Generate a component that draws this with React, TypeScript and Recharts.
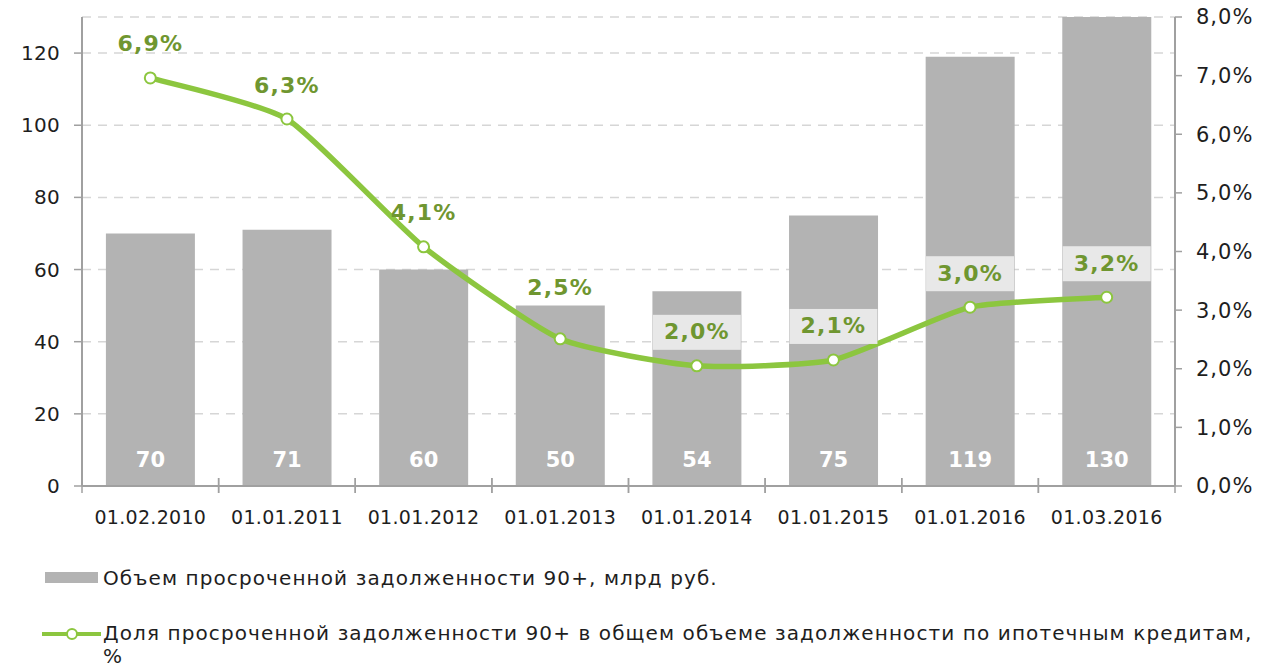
import React from 'react';
import * as R from 'recharts';
import { ComposedChart, Bar, Line, XAxis, YAxis, CartesianGrid, LabelList } from 'recharts';

const categories = ['01.02.2010', '01.01.2011', '01.01.2012', '01.01.2013', '01.01.2014', '01.01.2015', '01.01.2016', '01.03.2016'];
const volumes = [70, 71, 60, 50, 54, 75, 119, 130];
const shares = [6.96, 6.26, 4.08, 2.51, 2.05, 2.15, 3.05, 3.22];
const shareLabels = ['6,9%', '6,3%', '4,1%', '2,5%', '2,0%', '2,1%', '3,0%', '3,2%'];
const leftTicks = [0, 20, 40, 60, 80, 100, 120];
const rightTicks = [0, 1, 2, 3, 4, 5, 6, 7, 8];
const seriesNames = [
  'Объем просроченной задолженности 90+, млрд руб.',
  'Доля просроченной задолженности 90+ в общем объеме задолженности по ипотечным кредитам, %',
];

const LEFT_MAX = 130;
const RIGHT_MAX = 8;

const data = categories.map((c, i) => ({
  name: c,
  volume: volumes[i],
  share: shares[i],
  shareLabel: shareLabels[i],
}));

const FONT = 'Verdana, "DejaVu Sans", sans-serif';
const BAR_COLOR = '#b3b3b3';
const LINE_COLOR = '#8cc63f';
const LABEL_COLOR = '#6f9630';
const AXIS_COLOR = '#a0a0a0';
const TEXT_COLOR = '#1e1e1e';

const usePA: () => any = (R as any).usePlotArea || (() => null);

// Light cardinal-style smoothing (like a spreadsheet's "smoothed line")
function smoothCurve(tension: number) {
  return (context: any) => {
    let pts: number[][] = [];
    return {
      areaStart() {},
      areaEnd() {},
      lineStart() {
        pts = [];
      },
      point(x: number, y: number) {
        pts.push([+x, +y]);
      },
      lineEnd() {
        const n = pts.length;
        if (!n) return;
        context.moveTo(pts[0][0], pts[0][1]);
        const k = (1 - tension) / 6;
        for (let i = 0; i < n - 1; i++) {
          const p0 = pts[Math.max(i - 1, 0)];
          const p1 = pts[i];
          const p2 = pts[i + 1];
          const p3 = pts[Math.min(i + 2, n - 1)];
          context.bezierCurveTo(
            p1[0] + k * (p2[0] - p0[0]),
            p1[1] + k * (p2[1] - p0[1]),
            p2[0] - k * (p3[0] - p1[0]),
            p2[1] - k * (p3[1] - p1[1]),
            p2[0],
            p2[1]
          );
        }
      },
    };
  };
}

function PctLabel(props: any) {
  const { x, y, index, value } = props;
  const plot = usePA();
  let cy = y - 34;
  let boxed = false;
  if (plot && plot.height) {
    const gap = (volumes[index] / LEFT_MAX - shares[index] / RIGHT_MAX) * plot.height;
    if (gap > 0 && gap < 60) cy = y - gap - 18;
    else if (gap >= 60) boxed = true;
  }
  return (
    <g>
      {boxed && <rect x={x - 44} y={cy - 17} width={88} height={35} fill="#e8e8e8" />}
      <text x={x} y={cy} textAnchor="middle" dominantBaseline="central" fontFamily={FONT} fontWeight="bold" fontSize={22} letterSpacing={1.2} fill={LABEL_COLOR}>
        {value}
      </text>
    </g>
  );
}

function BarValueLabel(props: any) {
  const { x, y, width, height, value } = props;
  return (
    <text x={x + width / 2} y={y + height - 26} textAnchor="middle" dominantBaseline="central" fontFamily={FONT} fontWeight="bold" fontSize={21} fill="#fff">
      {value}
    </text>
  );
}

function XTick(props: any) {
  const { x, y, payload } = props;
  const half = payload && typeof payload.offset === 'number' ? payload.offset : 0;
  return (
    <g>
      {half > 0 && (
        <>
          <line x1={x - half} x2={x - half} y1={y - 8} y2={y + 7} stroke={AXIS_COLOR} strokeWidth={1.5} />
          <line x1={x + half} x2={x + half} y1={y - 8} y2={y + 7} stroke={AXIS_COLOR} strokeWidth={1.5} />
        </>
      )}
      <text x={x} y={y + 31} textAnchor="middle" dominantBaseline="central" fontFamily={FONT} fontSize={19} letterSpacing={0.3} fill={TEXT_COLOR}>
        {payload.value}
      </text>
    </g>
  );
}

const fmtPct = (v: number) => v.toFixed(1).replace('.', ',') + '%';

export default function App() {
  return (
    <div style={{ position: 'absolute', left: 0, top: 0, width: 1286, height: 669, fontFamily: FONT, background: '#fff' }}>
      <ComposedChart width={1286} height={669} data={data} margin={{ top: 17, right: 0, left: 0, bottom: 0 }} barCategoryGap="17.5%">
        <CartesianGrid yAxisId="left" vertical={false} stroke="#d6d6d6" strokeDasharray="9 7" strokeWidth={1.5} />
        <XAxis
          dataKey="name"
          height={183}
          tickLine={false}
          tickSize={0}
          tickMargin={0}
          axisLine={{ stroke: AXIS_COLOR, strokeWidth: 2 }}
          tick={<XTick />}
          interval={0}
        />
        <YAxis
          yAxisId="left"
          width={82}
          domain={[0, LEFT_MAX]}
          ticks={leftTicks}
          allowDataOverflow
          tickSize={8}
          tickMargin={14}
          axisLine={{ stroke: AXIS_COLOR, strokeWidth: 2 }}
          tickLine={{ stroke: AXIS_COLOR, strokeWidth: 1.5 }}
          tick={{ fontSize: 20, fill: TEXT_COLOR, fontFamily: FONT, letterSpacing: 0.3 }}
        />
        <YAxis
          yAxisId="right"
          orientation="right"
          width={111}
          domain={[0, RIGHT_MAX]}
          ticks={rightTicks}
          tickFormatter={fmtPct}
          tickSize={7}
          tickMargin={14}
          axisLine={{ stroke: AXIS_COLOR, strokeWidth: 2 }}
          tickLine={{ stroke: AXIS_COLOR, strokeWidth: 1.5 }}
          tick={{ fontSize: 21, fill: TEXT_COLOR, fontFamily: FONT, letterSpacing: 1 }}
        />
        <Bar yAxisId="left" dataKey="volume" fill={BAR_COLOR} isAnimationActive={false}>
          <LabelList dataKey="volume" content={<BarValueLabel />} />
        </Bar>
        <Line
          yAxisId="right"
          type={smoothCurve(0.45) as any}
          dataKey="share"
          stroke={LINE_COLOR}
          strokeWidth={5.5}
          dot={{ r: 5.5, fill: '#fff', stroke: LINE_COLOR, strokeWidth: 2 }}
          isAnimationActive={false}
        >
          <LabelList dataKey="shareLabel" content={<PctLabel />} />
        </Line>
      </ComposedChart>
      <div style={{ position: 'absolute', left: 45, top: 567, display: 'flex', alignItems: 'center' }}>
        <svg width={58} height={22} style={{ display: 'block' }}>
          <rect x={0} y={5} width={53} height={11} fill={BAR_COLOR} />
        </svg>
        <span style={{ fontSize: 20, color: TEXT_COLOR, lineHeight: '22px', letterSpacing: '1.1px' }}>{seriesNames[0]}</span>
      </div>
      <div style={{ position: 'absolute', left: 40, top: 622, display: 'flex', alignItems: 'flex-start' }}>
        <svg width={63} height={24} style={{ display: 'block', flex: 'none' }}>
          <line x1={2} x2={61} y1={12} y2={12} stroke={LINE_COLOR} strokeWidth={4} />
          <circle cx={32} cy={12} r={5} fill="#fff" stroke={LINE_COLOR} strokeWidth={2} />
        </svg>
        <span style={{ fontSize: 20, color: TEXT_COLOR, lineHeight: '23px', letterSpacing: '1.1px', width: 1160, display: 'block' }}>{seriesNames[1]}</span>
      </div>
    </div>
  );
}
